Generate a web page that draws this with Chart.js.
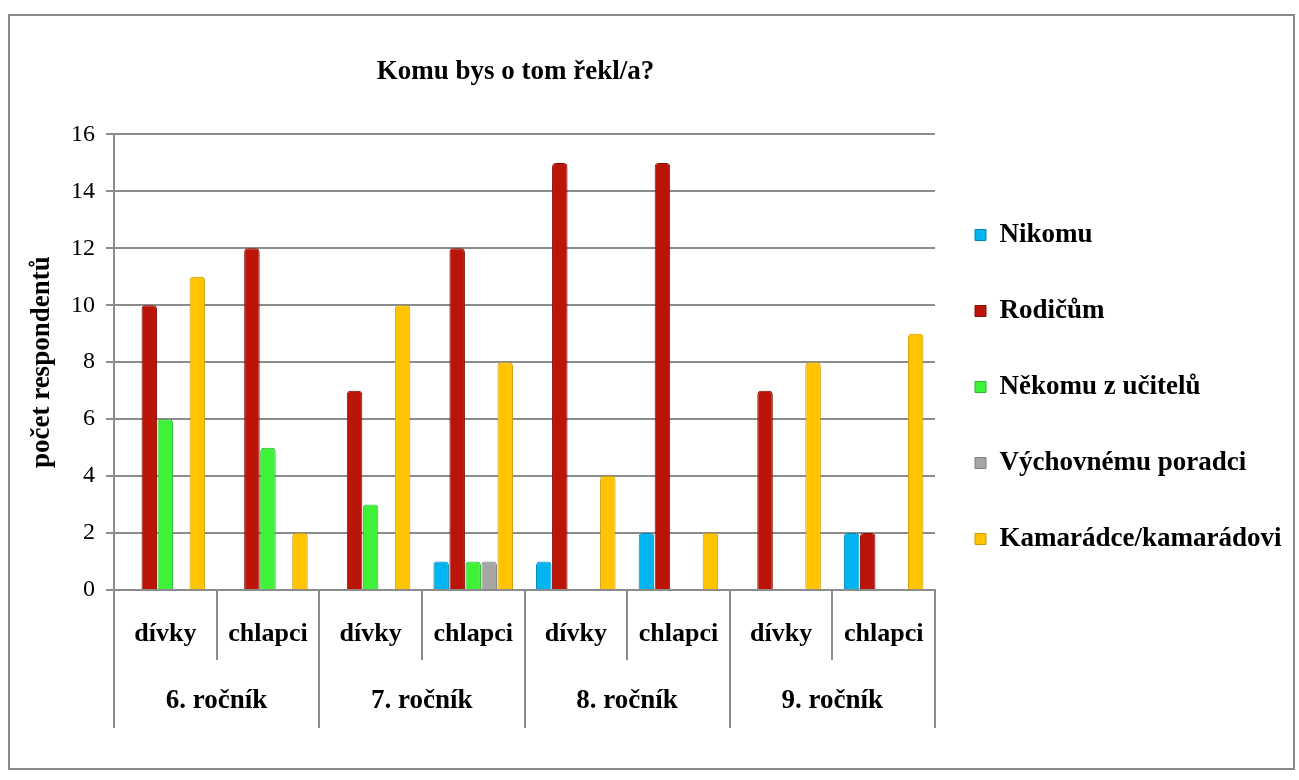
<!DOCTYPE html>
<html>
<head>
<meta charset="utf-8">
<script src="https://cdn.jsdelivr.net/npm/chart.js@4"></script>
<style>
  html, body { margin: 0; padding: 0; background: #fff; }
  #wrap {
    position: absolute; left: 8px; top: 14px;
    width: 1287px; height: 756px;
    border: 2px solid #8a8a8a; box-sizing: border-box;
  }
</style>
</head>
<body>
<div id="wrap"><canvas id="chart"></canvas></div>
<script>
// data
var groups = ['dívky', 'chlapci', 'dívky', 'chlapci', 'dívky', 'chlapci', 'dívky', 'chlapci'];
var grades = ['6. ročník', '7. ročník', '8. ročník', '9. ročník'];
var nikomu   = [0, 0, 0, 1, 1, 2, 0, 2];
var rodicum  = [10, 12, 7, 12, 15, 15, 7, 2];
var ucitelum = [6, 5, 3, 1, 0, 0, 0, 0];
var poradci  = [0, 0, 0, 1, 0, 0, 0, 0];
var kamaradi = [11, 2, 10, 8, 4, 2, 8, 9];

var serif = '"Liberation Serif", "Times New Roman", serif';
var gridGray = '#8c8c8c';

function series(label, data, fill, edge) {
    return {
        label: label,
        data: data,
        backgroundColor: fill,
        borderColor: edge,
        borderWidth: 1,
        borderRadius: { topLeft: 4, topRight: 4 },
        borderSkipped: 'bottom',
        barPercentage: 0.97,
        categoryPercentage: 0.78
    };
}

// the legend on the right is wider than Chart.js allows a side box to be
var wideLegend = {
    id: 'wideLegend',
    beforeLayout: function (chart) {
        var lg = chart.legend;
        if (lg && !lg._patched) {
            var fit = lg.fit;
            lg.fit = function () { fit.call(this); this.width = 358; };
            lg._patched = true;
        }
    },
    afterLayout: function (chart) {
        var lg = chart.legend;
        lg.left -= 9;
        lg.right -= 9;
        lg.top -= 5;
        lg.bottom -= 5;
        var tt = chart.titleBlock;
        if (tt) {
            tt.left -= 9;
            tt.right -= 9;
        }
    }
};

var ctx = document.getElementById('chart').getContext('2d');
new Chart(ctx, {
    type: 'bar',
    data: {
        labels: groups,
        datasets: [
            series('Nikomu', nikomu, '#00b4ef', '#0088bb'),
            series('Rodičům', rodicum, '#bb1408', '#8a0e05'),
            series('Někomu z učitelů', ucitelum, '#3ef23a', '#28b825'),
            series('Výchovnému poradci', poradci, '#a6a6a6', '#7f7f7f'),
            series('Kamarádce/kamarádovi', kamaradi, '#ffc400', '#d09a00')
        ]
    },
    plugins: [wideLegend],
    options: {
        responsive: true,
        maintainAspectRatio: false,
        animation: false,
        layout: { padding: { left: 16, top: 40, right: 0, bottom: 40 } },
        plugins: {
            title: {
                display: true,
                text: 'Komu bys o tom řekl/a?',
                fullSize: false,
                color: '#000',
                font: { family: serif, size: 27, weight: 'bold' },
                padding: { top: 0, bottom: 46 }
            },
            legend: {
                position: 'right',
                align: 'center',
                labels: {
                    color: '#000',
                    font: { family: serif, size: 27, weight: 'bold' },
                    boxWidth: 11,
                    boxHeight: 11,
                    padding: 49
                }
            },
            tooltip: { enabled: false }
        },
        scales: {
            y: {
                min: 0,
                max: 16,
                ticks: {
                    stepSize: 2,
                    color: '#000',
                    font: { family: serif, size: 24 },
                    padding: 11
                },
                grid: { color: gridGray, lineWidth: 2, tickLength: 8 },
                border: { color: gridGray, width: 2 },
                title: {
                    display: true,
                    text: 'počet respondentů',
                    color: '#000',
                    font: { family: serif, size: 27, weight: 'bold' },
                    padding: 0
                },
                afterFit: function (s) { s.width = 88; }
            },
            x: {
                ticks: {
                    color: '#000',
                    font: { family: serif, size: 26, weight: 'bold' },
                    padding: -41
                },
                grid: {
                    drawOnChartArea: false,
                    offset: true,
                    color: gridGray,
                    lineWidth: 2,
                    tickLength: 70
                },
                border: { color: gridGray, width: 2 },
                afterFit: function (s) { s.height = 70; }
            },
            x2: {
                type: 'category',
                labels: grades,
                position: 'bottom',
                offset: true,
                ticks: {
                    color: '#000',
                    font: { family: serif, size: 27, weight: 'bold' },
                    padding: -43
                },
                grid: {
                    drawOnChartArea: false,
                    offset: true,
                    color: gridGray,
                    lineWidth: 2,
                    tickLength: 68
                },
                border: { display: false },
                afterFit: function (s) { s.height = 68; }
            }
        }
    }
});
</script>
</body>
</html>
